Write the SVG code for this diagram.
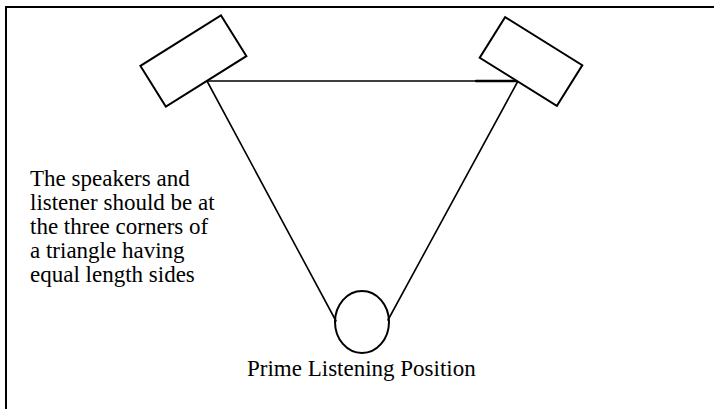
<svg xmlns="http://www.w3.org/2000/svg" width="714" height="409" viewBox="0 0 714 409">
  <style>
    .frame { fill: none; stroke: #000; stroke-width: 2; }
    .spk { fill: #fff; stroke: #000; stroke-width: 2; }
    .ln { fill: none; stroke: #000; stroke-width: 1.6; stroke-linecap: round; }
    .head { fill: #fff; stroke: #000; stroke-width: 2; }
    .txt { font-family: "Liberation Serif", "Times New Roman", serif; font-size: 23px; fill: #000; }
  </style>
  <rect x="0" y="0" width="714" height="409" fill="#fff"/>
  <path class="frame" d="M6,409 V7 H714"/>
  <g id="connectors">
    <line class="ln" x1="207" y1="81" x2="518" y2="81"/>
    <line class="ln" x1="476" y1="81" x2="518" y2="81" style="stroke-width:2.4"/>
    <line class="ln" x1="207" y1="81" x2="336" y2="321"/>
    <line class="ln" x1="518" y1="81" x2="388" y2="320"/>
  </g>
  <g id="speaker-left">
    <rect class="spk" x="-47.5" y="-24" width="95" height="48" transform="translate(193.4 61) rotate(-32)"/>
  </g>
  <g id="speaker-right">
    <rect class="spk" x="-45.5" y="-24" width="91" height="48" transform="translate(531 61.5) rotate(32)"/>
  </g>
  <g id="listener">
    <ellipse cx="362" cy="322" rx="27" ry="31" fill="none" stroke="#000" stroke-width="2"/>
    <text class="txt" x="247" y="376">Prime Listening Position</text>
  </g>
  <g id="note">
    <text class="txt" x="30" y="186">The speakers and</text>
    <text class="txt" x="30" y="210">listener should be at</text>
    <text class="txt" x="30" y="234">the three corners of</text>
    <text class="txt" x="30" y="258">a triangle having</text>
    <text class="txt" x="30" y="282">equal length sides</text>
  </g>
</svg>
